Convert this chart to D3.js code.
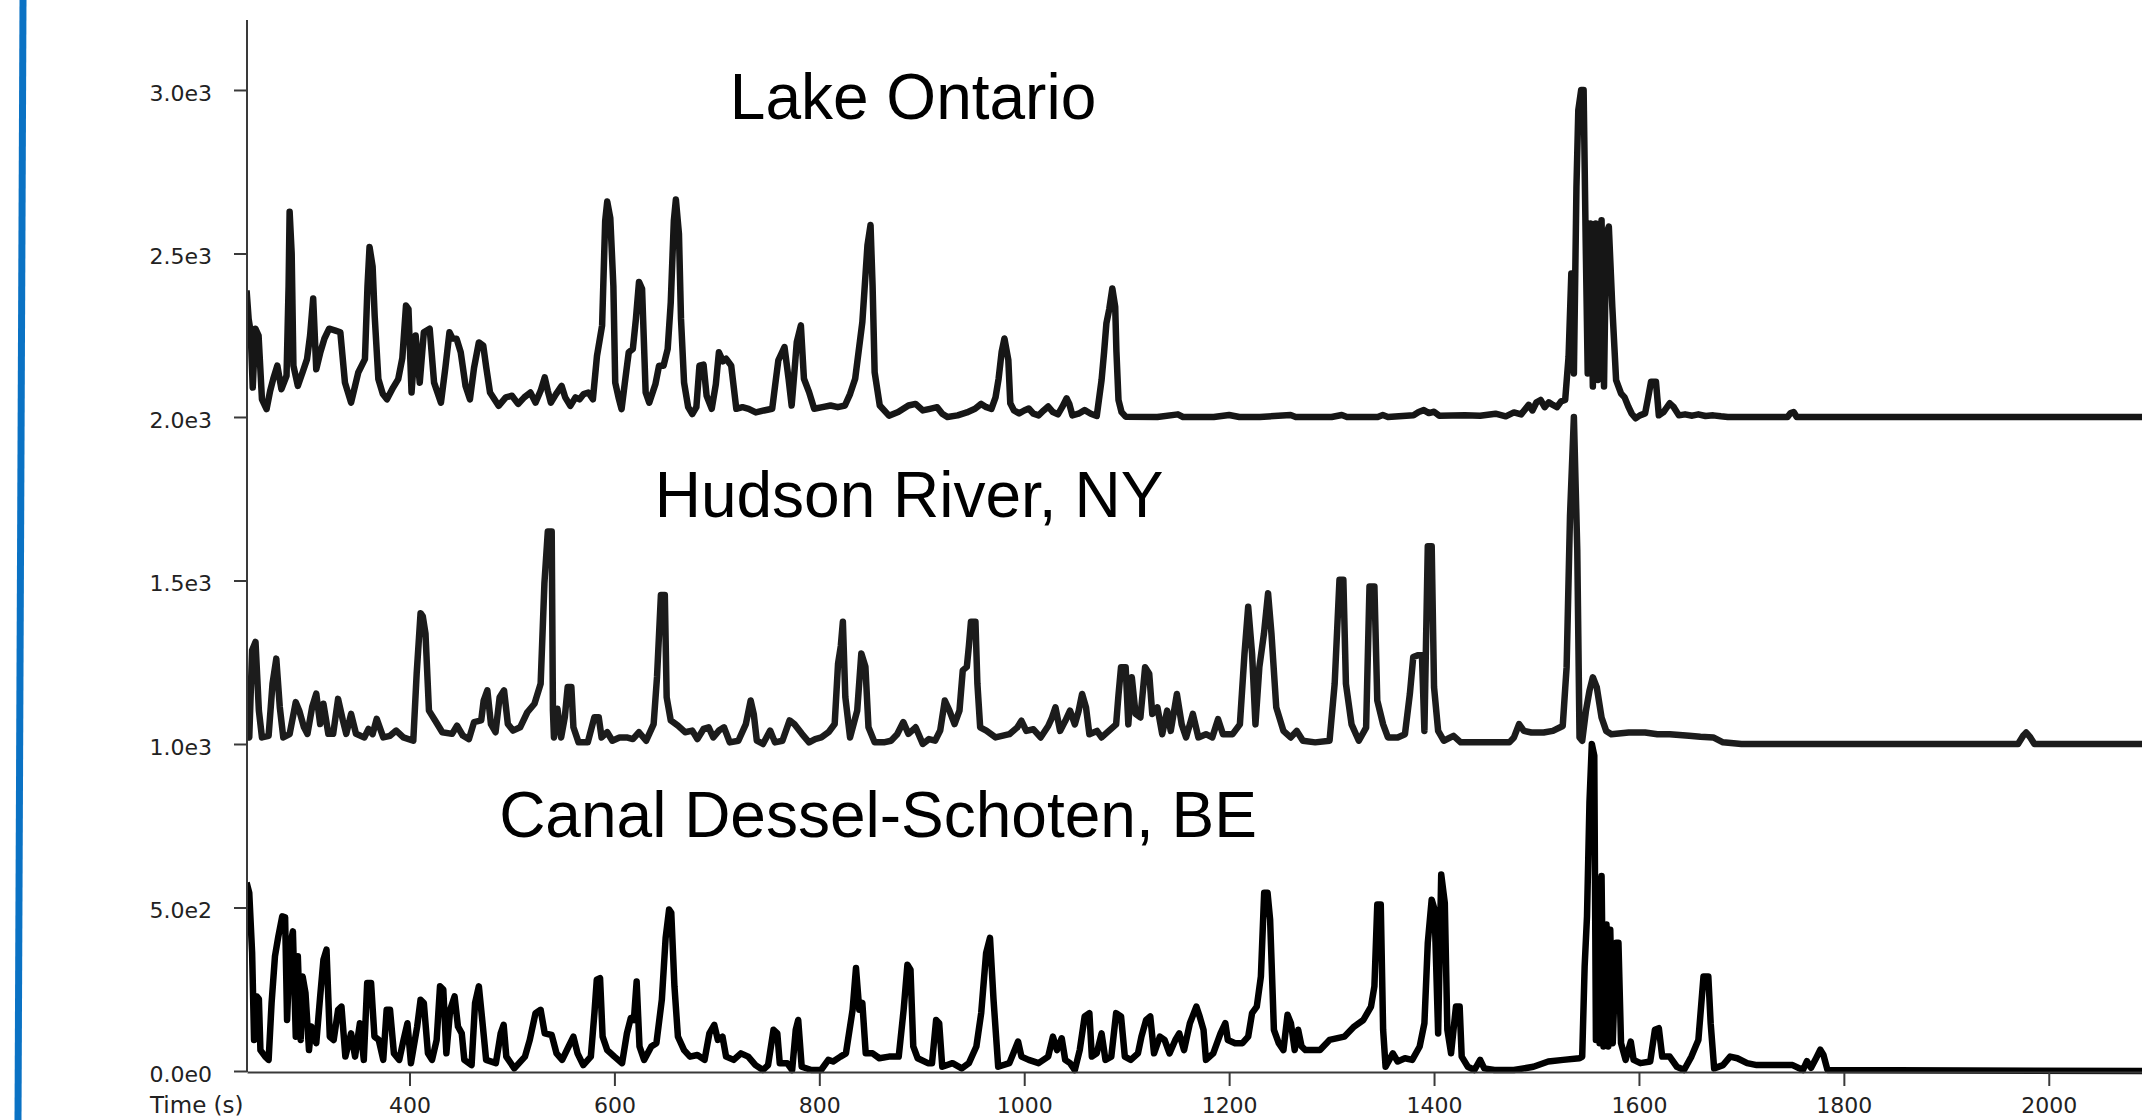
<!DOCTYPE html>
<html>
<head>
<meta charset="utf-8">
<script src="https://cdn.jsdelivr.net/npm/d3@7"></script>
<style>
  body { margin: 0; background: #fff; }
  svg { display: block; }
</style>
</head>
<body>
<svg id="chart" width="2142" height="1120"></svg>
<script>
// readings are [time (s), plotted value]; traces are stacked at 2000 / 1000 / 0
var lakeOntario = [
  [241,2387],[243,2300],[245,2259],[247,2090],[249.6,2270],[252.7,2249],[256,2054],[260.5,2024],[264,2080],[267,2116],
  [271,2157],[275,2085],[280,2126],[282,2400],[283,2628],[285,2500],[286.7,2157],[291,2095],[296,2140],[300,2177],
  [303,2250],[306,2362],[309,2146],[313,2198],[317,2240],[321.6,2270],[327,2265],[332.5,2259],[337,2105],[343,2044],
  [350,2136],[356.5,2177],[359,2400],[361,2520],[364,2460],[366,2310],[369.6,2116],[374,2070],[378,2054],[384,2090],
  [389,2116],[393,2180],[396.6,2341],[399,2330],[402,2075],[406,2249],[410,2105],[414,2259],[419.7,2270],[424,2105],
  [430.7,2044],[435,2150],[439,2259],[442,2240],[446,2239],[450,2198],[454.7,2095],[459,2054],[463,2150],[467.7,2228],
  [472,2218],[475,2150],[478.6,2075],[487,2034],[494,2060],[500,2065],[506,2040],[512,2060],[518,2075],[523,2044],
  [528,2080],[532,2121],[535,2080],[538,2044],[543,2070],[548.5,2095],[552,2060],[557,2034],[562,2060],[566,2054],
  [570,2070],[574.6,2075],[579,2054],[583,2187],[588,2280],[591,2600],[593,2659],[596,2608],[599,2400],[600.8,2105],
  [604,2060],[607,2024],[610,2100],[614,2198],[618,2208],[621,2300],[624,2413],[627,2392],[630.5,2075],[634,2044],
  [640,2100],[643.6,2157],[648,2157],[652,2208],[655,2350],[658,2600],[660,2665],[663,2560],[665,2300],[668,2105],
  [672,2030],[676,2009],[680,2030],[683,2157],[687,2160],[690,2065],[695,2025],[699,2100],[702,2198],[706,2170],
  [709,2178],[714,2157],[719,2025],[725,2030],[731,2025],[738,2014],[746,2020],[754,2025],[757,2100],[760,2173],
  [766,2214],[770,2117],[773,2035],[776,2150],[778,2229],[782,2280],[785,2117],[790,2076],[795,2025],[803,2030],
  [811,2035],[818,2030],[825,2035],[830,2070],[835,2117],[842,2290],[847,2525],[850,2587],[852,2400],[854,2137],
  [859,2035],[868,2004],[877,2015],[887,2035],[894,2040],[901,2020],[908,2025],[915,2030],[920,2010],[925,2000],
  [935,2005],[944,2014],[952,2025],[958,2040],[963,2030],[968,2025],[972,2060],[975,2117],[978,2200],[980.7,2240],
  [984.5,2174],[986.4,2042],[990,2020],[995,2011],[1000,2020],[1004.4,2026],[1009,2010],[1014,2005],[1019,2020],[1023.4,2032],
  [1028,2015],[1032.9,2008],[1037,2030],[1041.4,2057],[1044,2040],[1047,2005],[1053,2010],[1059,2021],[1065,2010],[1070.8,2003],
  [1075.5,2113],[1078,2200],[1080.2,2286],[1083,2330],[1086,2393],[1088.8,2337],[1090,2200],[1092,2052],[1095,2015],[1099,2001],
  [1130,2000],[1150,2008],[1155,2000],[1185,2000],[1200,2006],[1210,2000],[1230,2000],[1260,2006],[1265,2000],[1300,2000],
  [1310,2006],[1315,2000],[1345,2000],[1350,2006],[1355,2000],[1380,2005],[1385,2015],[1390,2021],[1395,2012],[1400,2016],
  [1405,2004],[1430,2005],[1445,2004],[1460,2010],[1470,2002],[1478,2014],[1485,2008],[1492.4,2037],[1496,2020],[1500,2045],
  [1504,2052],[1508,2030],[1512,2045],[1516,2037],[1520,2030],[1524,2048],[1528,2052],[1531.3,2184],[1534,2439],[1536.5,2133],
  [1539,2704],[1540.8,2938],[1543.6,3000],[1546,3000],[1548,2541],[1550,2133],[1552.6,2592],[1555,2093],[1557.8,2592],[1560,2113],
  [1563.5,2602],[1565.9,2093],[1568,2560],[1570.6,2582],[1574,2337],[1577.7,2113],[1582.5,2072],[1586,2060],[1589.6,2032],[1593,2010],
  [1596.7,1996],[1601,2005],[1606,2011],[1609,2060],[1611.8,2108],[1616.6,2108],[1619.4,2005],[1624,2015],[1630,2042],[1634,2030],
  [1639,2005],[1645,2008],[1652,2004],[1658,2008],[1665,2003],[1672.5,2005],[1680,2002],[1686.7,2000],[1745,2000],[1748,2012],
  [1751,2015],[1754,2000],[2091,2000]
];

var hudsonRiver = [
  [241,1041],[243.6,1020],[246.4,1287],[249.7,1312],[253,1102],[256,1020],[262.5,1025],[266.3,1184],[270,1261],[273.4,1113],
  [276.8,1020],[283,1030],[289,1128],[292.4,1102],[297,1051],[300.4,1031],[305,1113],[309,1154],[312.8,1061],[316,1123],
  [320.8,1031],[325.5,1031],[330.3,1138],[335,1072],[338.3,1031],[343,1092],[347.8,1031],[356,1020],[360,1046],[364,1030],
  [368,1077],[374.4,1020],[381,1025],[387,1041],[394,1020],[403.7,1010],[407,1215],[410.8,1400],[413,1390],[415.6,1338],
  [419,1102],[425,1072],[432,1036],[441.6,1031],[446.4,1056],[452,1026],[458,1015],[463,1067],[470,1072],[472.4,1133],
  [476,1164],[479.5,1061],[484,1036],[488,1143],[492.3,1164],[496,1061],[501,1041],[508,1051],[515,1097],[522,1123],
  [528,1184],[531.7,1492],[535,1650],[538.8,1650],[540,1102],[541,1020],[544.4,1108],[548,1020],[551.6,1082],[554.4,1174],
  [558,1174],[560,1051],[565,1005],[574,1005],[580.5,1082],[584.7,1082],[587.5,1020],[593,1036],[598,1010],[605,1020],
  [612,1020],[618,1015],[624,1036],[631,1010],[638.3,1061],[641.6,1205],[645.4,1456],[649.2,1456],[651,1143],[655,1072],
  [662,1056],[669,1036],[676,1041],[681,1015],[687,1046],[692,1051],[696.5,1020],[702,1041],[707,1051],[712.6,1005],
  [721,1010],[728.3,1061],[733,1133],[736,1092],[739,1010],[745,1000],[752,1041],[756.7,1005],[764,1010],[771,1072],
  [775.6,1061],[783,1031],[790,1005],[796,1015],[802,1020],[809,1036],[815,1061],[818.3,1246],[821,1300],[823,1374],
  [825.4,1143],[830,1020],[837,1102],[841,1277],[845,1236],[848,1051],[854,1005],[863,1005],[870,1010],[876,1030],
  [882,1067],[887,1031],[894,1051],[901,1000],[907,1015],[913,1010],[918,1041],[922.5,1133],[927,1102],[932,1061],
  [936.8,1102],[940,1225],[944,1236],[946,1300],[948,1374],[952.4,1374],[954.3,1184],[957,1051],[963,1041],[972,1020],
  [985.5,1030],[993,1050],[997.3,1071],[1002,1040],[1009,1045],[1016,1020],[1023.4,1055],[1027,1080],[1030.5,1112],[1035,1040],
  [1040,1070],[1044.7,1102],[1049.4,1060],[1053,1100],[1056.5,1153],[1060.3,1112],[1063.6,1030],[1071,1040],[1075.5,1020],[1082.6,1040],
  [1089.7,1060],[1092,1150],[1094.5,1235],[1099,1235],[1101.6,1060],[1105,1204],[1108.7,1092],[1113.4,1081],[1118,1235],[1122,1215],
  [1125,1092],[1130,1112],[1134.7,1030],[1139.5,1102],[1143,1040],[1149,1153],[1153.7,1060],[1158,1020],[1164.6,1092],[1170,1020],
  [1177.4,1030],[1183.5,1020],[1189.2,1076],[1194,1030],[1203.4,1030],[1210.5,1060],[1215,1276],[1218.6,1420],[1222.4,1276],[1225.7,1060],
  [1229.5,1235],[1234,1338],[1238,1461],[1241.3,1338],[1246,1112],[1253,1040],[1260,1020],[1266,1040],[1272,1010],[1284,1005],
  [1298,1010],[1303,1184],[1307.7,1502],[1311.5,1502],[1314,1184],[1319.5,1060],[1326.6,1010],[1333.7,1050],[1337,1482],[1341.8,1482],
  [1344.6,1133],[1350.3,1060],[1355,1020],[1364.5,1020],[1371.6,1030],[1376.4,1153],[1379.7,1266],[1384,1271],[1388.2,1271],[1390.6,1040],
  [1393.9,1605],[1397.7,1605],[1400,1174],[1404,1040],[1409.5,1010],[1419,1025],[1426,1005],[1473.5,1005],[1478,1020],[1483,1061],
  [1487.7,1040],[1495,1035],[1507,1035],[1516,1040],[1525.6,1055],[1529.4,1235],[1532.7,1697],[1536.5,2000],[1539.8,1594],[1542,1020],
  [1544.6,1010],[1548.3,1102],[1551.7,1163],[1555,1204],[1558.8,1174],[1563.5,1081],[1568,1040],[1573,1030],[1590,1035],[1606,1035],
  [1618,1030],[1630,1030],[1649,1025],[1660,1022],[1672.5,1020],[1682,1005],[1700,1000],[1970,1000],[1975,1025],[1978,1035],
  [1982,1020],[1986,1000],[2091,1000]
];

var canalDesselSchoten = [
  [241,576],[243.6,545],[246.4,361],[248.3,95],[251,228],[253,220],[254.5,64],[259.2,44],[262.5,34],[265.4,208],
  [268.7,351],[272,412],[275.8,473],[278.6,470],[280.5,156],[283.4,381],[286.2,427],[289,105],[291,351],[293.8,95],
  [295.7,289],[298.5,238],[301.9,64],[304.2,136],[309,85],[312.8,228],[316,340],[319,371],[322.2,105],[326,95],
  [330.3,187],[333.6,197],[337.4,44],[343,115],[346.9,44],[351.6,146],[355.4,34],[358.7,269],[362.5,269],[365.8,105],
  [370,95],[374.4,34],[377.7,187],[381,187],[384.8,54],[390,34],[394.2,95],[398,146],[401.4,24],[407.5,136],
  [410.8,218],[414,208],[418,54],[422,34],[426.5,95],[429.8,259],[433,249],[436,54],[439.7,187],[444,228],
  [447.3,136],[451,115],[453.5,34],[460.6,18],[464,208],[467.7,259],[471,156],[474.8,34],[484.3,24],[489,115],
  [491.9,141],[494.5,44],[502.3,8],[512.7,44],[517.4,95],[523,177],[528,187],[532,115],[538.8,110],[543.5,54],
  [549,34],[555.3,75],[560,105],[564,54],[569.6,18],[577,44],[580.5,177],[582.8,279],[586,284],[588.5,105],
  [593,64],[600,44],[607.5,24],[612.2,115],[616,162],[619,156],[621.7,274],[624.5,75],[629,34],[636,75],
  [641,85],[646.3,218],[650,407],[653.4,494],[655.5,484],[658.6,259],[662,105],[668,64],[673.8,44],[681,49],
  [688,34],[692.7,115],[697.5,141],[701,95],[705.5,105],[709,44],[716.4,34],[723.5,54],[730.6,44],[737.7,18],
  [745,3],[750,18],[755.3,126],[759,115],[761.4,24],[768.6,24],[773.5,3],[777,126],[779.4,156],[782.8,13],
  [792.3,3],[801.7,3],[808.8,34],[813.5,29],[820.7,44],[826,54],[832.5,187],[835.8,315],[839,187],[842,208],
  [845.3,54],[852,54],[858.6,39],[868,44],[877.5,44],[882.3,187],[886,325],[889,310],[891.7,75],[896,39],
  [906,24],[910,24],[914,156],[917,146],[920,13],[930,24],[939,8],[946,24],[953.3,75],[958,177],
  [962.8,361],[966.6,407],[970,220],[974.6,13],[985.5,24],[994,90],[997.3,44],[1004.4,34],[1014,24],[1023.4,44],
  [1028,105],[1032,64],[1036.6,100],[1040,34],[1044.7,24],[1049.4,3],[1054.2,64],[1059,167],[1063.6,177],[1066,44],
  [1070.8,54],[1075.5,115],[1079.3,34],[1085,44],[1089.7,177],[1094.5,167],[1098.2,44],[1104,34],[1111,54],[1114.4,105],
  [1119,156],[1123,167],[1126.7,54],[1132.4,105],[1137,95],[1141.8,54],[1147.5,95],[1151.3,115],[1156,64],[1161.7,146],
  [1168,197],[1171.2,167],[1175,126],[1177.4,34],[1184.5,54],[1191.6,115],[1196.3,146],[1198.7,95],[1205.8,85],[1213,85],
  [1218.6,105],[1222.4,177],[1227,197],[1231,289],[1234.2,545],[1237.5,545],[1240,463],[1243.7,126],[1248.4,85],[1253,64],
  [1257,172],[1260.3,146],[1264,64],[1267.4,126],[1270.7,75],[1274.5,64],[1288.7,64],[1298,95],[1312.4,105],[1322,136],
  [1331,156],[1338.5,197],[1341.8,259],[1344.6,509],[1348,509],[1350.3,126],[1352.7,13],[1359.8,54],[1364.5,29],[1371.6,39],
  [1378.7,34],[1386,75],[1390.6,146],[1393.9,392],[1397.7,524],[1400.5,494],[1404,115],[1407,601],[1410.5,514],[1413,126],
  [1416.6,54],[1421.4,197],[1425,197],[1427,44],[1433,13],[1439.4,3],[1445,34],[1449,8],[1459,3],[1478,3],
  [1497,13],[1511.5,29],[1526,34],[1542,39],[1544.6,44],[1547,320],[1549.3,473],[1551.7,821],[1554,1000],[1556.4,964],
  [1558,95],[1559.7,586],[1561.6,85],[1563.5,596],[1565.4,75],[1568.3,448],[1570,75],[1572,432],[1574.4,85],[1577.7,392],
  [1580,392],[1582.5,85],[1587,34],[1592,90],[1594.8,34],[1601.4,24],[1611,29],[1615.6,126],[1619.4,131],[1622.7,44],
  [1630,44],[1637,13],[1644,3],[1651.2,44],[1658,95],[1663,289],[1667.7,289],[1670,146],[1673.4,8],[1682,18],
  [1689,44],[1696,39],[1705.6,24],[1715,18],[1750,18],[1760,3],[1764,30],[1768,10],[1773,40],[1777,65],
  [1780,50],[1784,3],[2091,0]
];

var seriesLabels = ["Lake Ontario", "Hudson River, NY", "Canal Dessel-Schoten, BE"];
var yTicks = [0, 500, 1000, 1500, 2000, 2500, 3000];
var xTicks = [400, 600, 800, 1000, 1200, 1400, 1600, 1800, 2000];
var xTitle = "Time (s)";

var svg = d3.select("#chart");
var plotLeft = 247, plotRight = 2142, plotTop = 20, plotBottom = 1071;

var x = d3.scaleLinear().domain([241.4, 2091]).range([plotLeft, plotRight]);
var y = d3.scaleLinear().domain([0, 3214]).range([plotBottom, plotTop]);

// blue slide bar on the far left
svg.append("line")
    .attr("x1", 23).attr("y1", 0)
    .attr("x2", 18).attr("y2", 1120)
    .attr("stroke", "#0a72c4")
    .attr("stroke-width", 7);

svg.append("clipPath").attr("id", "plotClip")
  .append("rect")
    .attr("x", plotLeft + 1).attr("y", 0)
    .attr("width", plotRight - plotLeft).attr("height", plotBottom + 4);

var line = d3.line()
    .x(function(d){ return x(d[0]); })
    .y(function(d){ return y(d[1]); });

var traces = [
    {data: lakeOntario, color: "#161616"},
    {data: hudsonRiver, color: "#1c1c1c"},
    {data: canalDesselSchoten, color: "#000"}
];

svg.append("g").attr("clip-path", "url(#plotClip)")
  .selectAll("path")
  .data(traces)
  .enter().append("path")
    .attr("d", function(d){ return line(d.data); })
    .attr("fill", "none")
    .attr("stroke", function(d){ return d.color; })
    .attr("stroke-width", 6.5)
    .attr("stroke-linejoin", "round");

function sciFormat(v){
    return d3.format(".1e")(v).replace("+", "");
}

var yAxis = svg.append("g")
    .attr("transform", "translate(" + plotLeft + ",0)")
    .call(d3.axisLeft(y).tickValues(yTicks).tickFormat(sciFormat)
        .tickSize(13).tickSizeOuter(0).tickPadding(22));

var xAxis = svg.append("g")
    .attr("transform", "translate(0," + (plotBottom + 1) + ")")
    .call(d3.axisBottom(x).tickValues(xTicks).tickFormat(d3.format("d"))
        .tickSize(14).tickSizeOuter(0));

[yAxis, xAxis].forEach(function(g){
    g.select(".domain").attr("stroke", "#3a3a3a").attr("stroke-width", 2);
    g.selectAll(".tick line").attr("stroke", "#3a3a3a").attr("stroke-width", 2);
    g.selectAll("text")
        .attr("fill", "#222")
        .style("font-family", "'DejaVu Sans', Verdana, sans-serif")
        .style("font-size", "22px");
});
yAxis.selectAll("text").attr("dy", "0.46em");
xAxis.selectAll("text").attr("y", 41).attr("dy", 0);

// the y domain line starts at the top of the frame
yAxis.select(".domain").attr("d", "M0," + plotTop + "V" + (plotBottom + 1));

svg.append("text")
    .attr("x", 150).attr("y", 1113)
    .attr("fill", "#222")
    .style("font-family", "'DejaVu Sans', Verdana, sans-serif")
    .style("font-size", "23px")
    .text(xTitle);

var labelPos = [[913, 119], [909, 517], [878, 837]];
svg.selectAll("text.series")
  .data(seriesLabels)
  .enter().append("text")
    .attr("class", "series")
    .attr("x", function(d, i){ return labelPos[i][0]; })
    .attr("y", function(d, i){ return labelPos[i][1]; })
    .attr("text-anchor", "middle")
    .attr("fill", "#000")
    .style("font-family", "'Liberation Sans', Arial, sans-serif")
    .style("font-size", "64px")
    .text(function(d){ return d; });
</script>
</body>
</html>
